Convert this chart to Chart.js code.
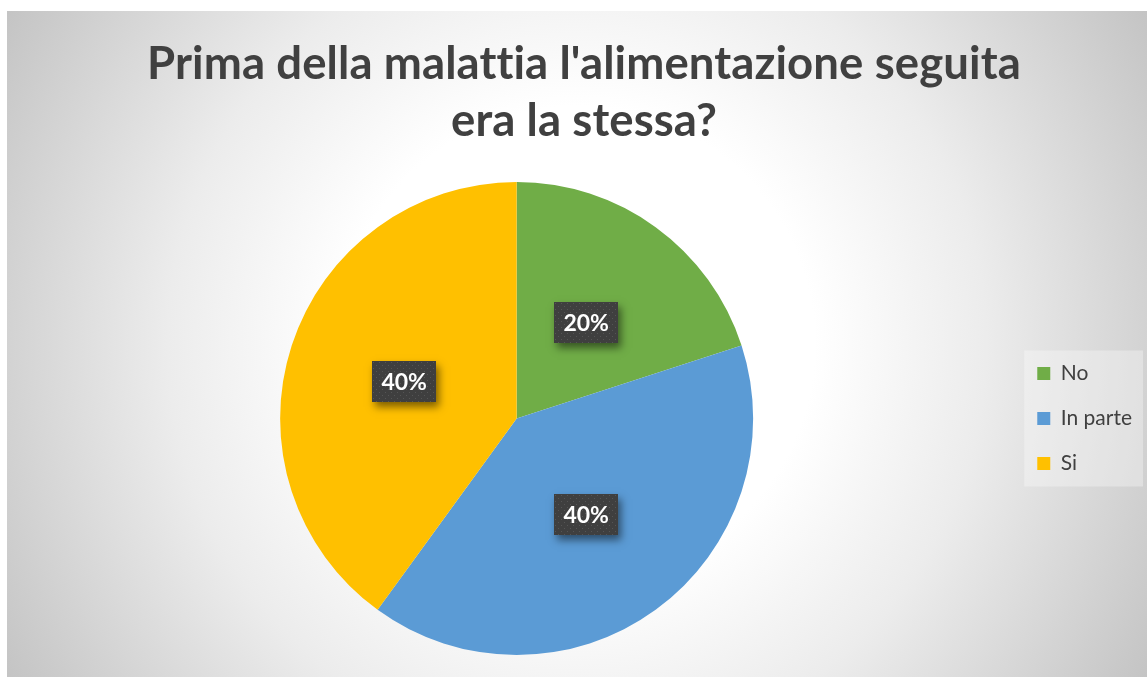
<!DOCTYPE html>
<html lang="it">
<head>
<meta charset="utf-8">
<title>Prima della malattia l'alimentazione seguita era la stessa?</title>
<script src="https://cdn.jsdelivr.net/npm/chart.js@4/dist/chart.umd.min.js"></script>
<style>
  html, body { margin: 0; padding: 0; background: #ffffff; }
  #wrap { position: relative; width: 1147px; height: 677px; }
  canvas { display: block; }
</style>
</head>
<body>
<div id="wrap"><canvas id="chart" width="1147" height="677"></canvas></div>
<script>
// Survey answers and their share of respondents (%)
const categories = ['No', 'In parte', 'Si'];
const percentages = [20, 40, 40];
const titleLines = ["Prima della malattia l'alimentazione seguita", 'era la stessa?'];

const sliceColors = ['#70AD47', '#5B9BD5', '#FFC000'];
const FONT = 'Lato, "Open Sans", "Liberation Sans", sans-serif';
const TEXT_COLOR = '#404040';

// Frame with a soft radial fill, plus the pale panel behind the legend
const backgroundPlugin = {
  id: 'frameBackground',
  beforeDraw(chart) {
    const ctx = chart.ctx;
    const W = chart.width, H = chart.height;
    ctx.save();
    ctx.fillStyle = '#ffffff';
    ctx.fillRect(0, 0, W, H);
    const x0 = 7, y0 = 11;
    const cx = 577, cy = 344;
    const g = ctx.createRadialGradient(cx, cy, 0, cx, cy, 660);
    g.addColorStop(0, '#ffffff');
    g.addColorStop(0.36, '#ffffff');
    g.addColorStop(0.62, '#ececec');
    g.addColorStop(1, '#c4c4c4');
    ctx.fillStyle = g;
    ctx.fillRect(x0, y0, W - x0, H - y0);

    const lg = chart.legend;
    if (lg && lg.legendHitBoxes && lg.legendHitBoxes.length) {
      const boxes = lg.legendHitBoxes;
      const first = boxes[0], last = boxes[boxes.length - 1];
      const left = first.left - 13;
      const top = first.top + first.height / 2 - 23;
      const bottom = last.top + last.height / 2 + 23;
      const right = W - 4;
      ctx.fillStyle = 'rgba(255,255,255,0.32)';
      ctx.fillRect(left, top, right - left, bottom - top);
    }
    ctx.restore();
  }
};

// Two-line bold heading
const headingPlugin = {
  id: 'heading',
  afterDraw(chart) {
    const ctx = chart.ctx;
    ctx.save();
    ctx.fillStyle = TEXT_COLOR;
    ctx.font = 'bold 45.5px ' + FONT;
    if ('letterSpacing' in ctx) ctx.letterSpacing = '0.1px'; // keeps "tt" as two letters
    ctx.textAlign = 'center';
    ctx.textBaseline = 'alphabetic';
    ctx.fillText(titleLines[0], 584, 79);
    ctx.fillText(titleLines[1], 584, 136);
    ctx.restore();
  }
};

// Dotted dark tile used behind the percentage labels
function makeDotPattern(ctx) {
  const tile = document.createElement('canvas');
  tile.width = 6; tile.height = 6;
  const t = tile.getContext('2d');
  t.fillStyle = '#3f3f3f';
  t.fillRect(0, 0, 6, 6);
  t.fillStyle = '#555555';
  t.fillRect(1, 1, 1, 1);
  t.fillRect(4, 4, 1, 1);
  return ctx.createPattern(tile, 'repeat');
}

// Percentage labels on each slice, boxed with a drop shadow
const sliceLabelPlugin = {
  id: 'sliceLabels',
  afterDatasetsDraw(chart) {
    const ctx = chart.ctx;
    const meta = chart.getDatasetMeta(0);
    const values = chart.data.datasets[0].data;
    const pattern = makeDotPattern(ctx);
    const bw = 64, bh = 41;
    meta.data.forEach((arc, i) => {
      const p = arc.tooltipPosition();
      const x = Math.round(p.x - bw / 2), y = Math.round(p.y - bh / 2);
      ctx.save();
      ctx.shadowColor = 'rgba(0,0,0,0.5)';
      ctx.shadowBlur = 8;
      ctx.shadowOffsetX = 3;
      ctx.shadowOffsetY = 5;
      ctx.fillStyle = '#3f3f3f';
      ctx.fillRect(x, y, bw, bh);
      ctx.restore();
      ctx.save();
      ctx.fillStyle = pattern;
      ctx.translate(x, y);
      ctx.fillRect(0, 0, bw, bh);
      ctx.restore();
      ctx.save();
      ctx.fillStyle = '#ffffff';
      ctx.font = 'bold 23px ' + FONT;
      ctx.textAlign = 'center';
      ctx.textBaseline = 'middle';
      ctx.fillText(values[i] + '%', p.x, p.y + 1);
      ctx.restore();
    });
  }
};

function draw() {
  new Chart(document.getElementById('chart'), {
    type: 'pie',
    data: {
      labels: categories,
      datasets: [{
        data: percentages,
        backgroundColor: sliceColors,
        borderWidth: 0
      }]
    },
    options: {
      responsive: false,
      animation: false,
      layout: { padding: { top: 182, bottom: 22, left: 20, right: 5 } },
      plugins: {
        title: { display: false },
        tooltip: { enabled: false },
        legend: {
          position: 'right',
          labels: {
            boxWidth: 13,
            boxHeight: 13,
            padding: 24,
            color: TEXT_COLOR,
            font: { family: FONT, size: 21 }
          }
        }
      }
    },
    plugins: [backgroundPlugin, sliceLabelPlugin, headingPlugin]
  });
}

if (document.fonts && document.fonts.load) {
  Promise.all([
    document.fonts.load('bold 46px Lato'),
    document.fonts.load('21px Lato')
  ]).then(draw, draw);
} else {
  draw();
}
</script>
</body>
</html>
